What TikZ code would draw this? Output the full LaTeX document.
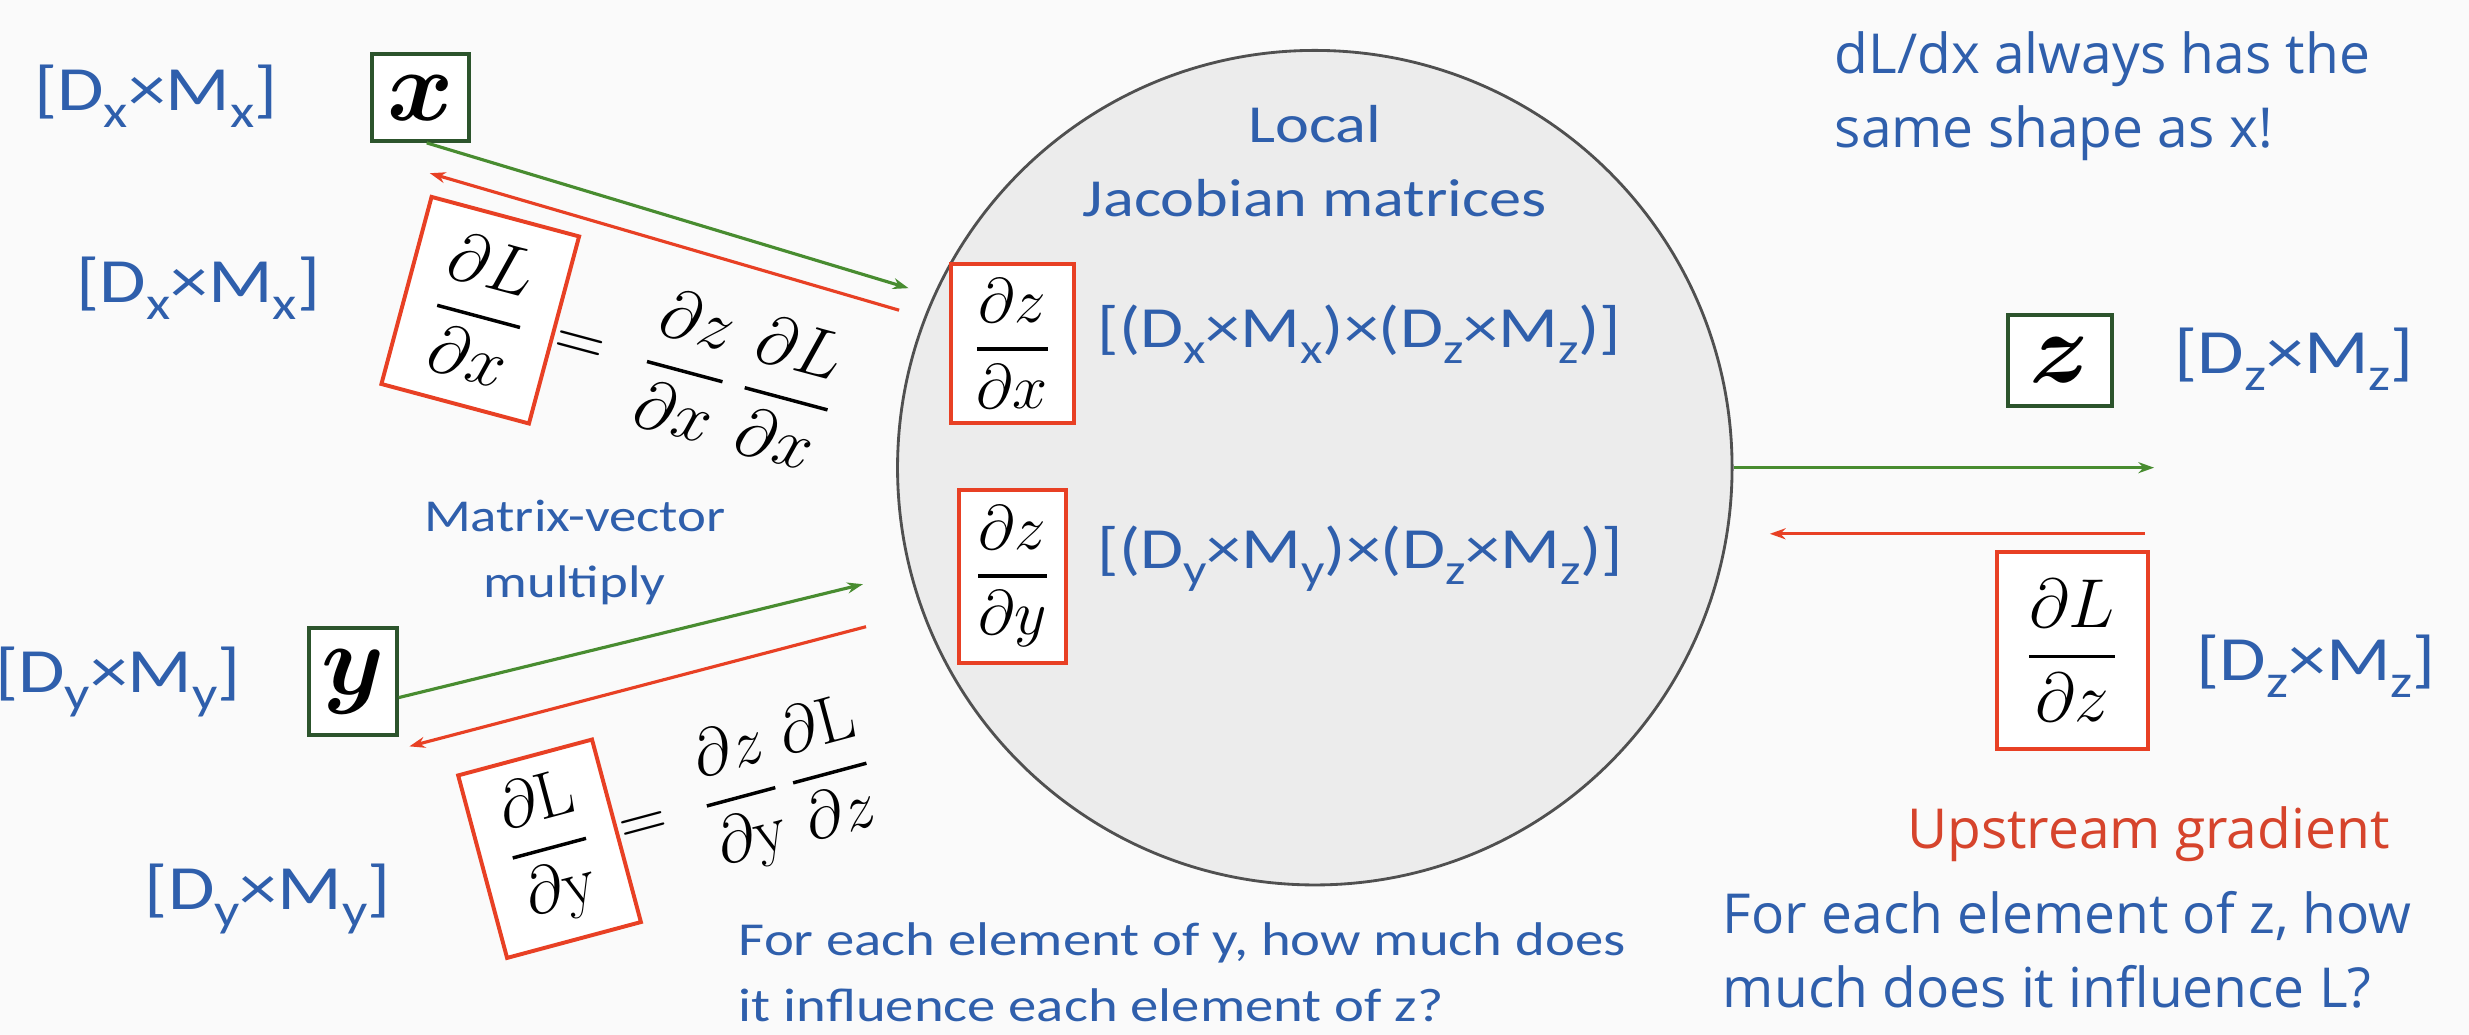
\RequirePackage{fix-cm}
\documentclass[tikz,border=0pt]{standalone}
\usepackage{amsmath}
\usepackage{graphicx}
\usepackage{fontspec}
\usetikzlibrary{arrows.meta}
\newfontfamily\lf[FakeStretch=1.2]{Carlito}
\newfontfamily\rf{Open Sans}
\definecolor{myblue}{RGB}{47,95,172}
\definecolor{myred}{RGB}{232,64,36}
\definecolor{ured}{RGB}{214,68,44}
\definecolor{mygreen}{RGB}{72,140,48}
\definecolor{boxgreen}{RGB}{44,84,44}
\definecolor{circfill}{RGB}{236,236,236}
\definecolor{circline}{RGB}{80,80,80}
\definecolor{bg}{RGB}{250,250,250}
\newcommand{\sbs}[1]{\raisebox{-0.27em}{\scalebox{0.74}{#1}}}
\newcommand{\fs}[1]{\fontsize{#1}{#1}\selectfont}
\newcommand{\pf}[2]{\genfrac{}{}{2.2pt}{0}{#1}{#2}}
\tikzset{
  bt/.style={text=myblue, inner sep=0pt, align=center},
  rt/.style={text=myblue, inner sep=0pt, align=left, font=\rf\fontsize{35}{47}\selectfont},
  gbox/.style={draw=boxgreen, line width=2.5pt, fill=white, inner sep=0pt,
    minimum width=#1, font=\fs{64}},
  rbox/.style={draw=myred, line width=2.5pt, fill=white, inner sep=0pt},
  fwd/.style={draw=mygreen, line width=2pt, -{Stealth[length=10pt,width=7pt]}},
  bwd/.style={draw=myred, line width=2pt, -{Stealth[length=10pt,width=7pt]}},
}
\begin{document}
\begin{tikzpicture}[x=1pt,y=1pt]
\useasboundingbox (0,0) rectangle (1568,-657);
\fill[bg] (0,0) rectangle (1568,-657);

% circle
\node[circle, draw=circline, fill=circfill, line width=1.8pt, minimum size=530pt, inner sep=0pt] (f) at (835,-297) {};
\node[bt, font=\lf\fs{34}] (loc) at (835,-79) {Local};
\node[bt, font=\lf\fs{34}] (jac) at (835,-126) {Jacobian matrices};

% x side
\node[bt, font=\lf\fs{40}] (lx1) at (99,-61) {[D\sbs{x}×M\sbs{x}]};
\node[gbox=62pt, minimum height=55pt] (x) at (267,-62) {$\boldsymbol{x}$};
\node[bt, font=\lf\fs{40}] (lx2) at (126,-183) {[D\sbs{x}×M\sbs{x}]};
\node[rbox, rotate=-15, minimum width=97pt, minimum height=123pt, font=\fs{44}] (dLdx) at (305,-197) {$\pf{\partial L}{\partial x}$};
\node[rotate=-15, anchor=west, inner sep=1pt, font=\fs{44}] (eqx) at (dLdx.east) {$=\mkern6mu\pf{\partial z}{\partial x}\mkern5mu\pf{\partial L}{\partial x}$};

\node[rbox, minimum width=78pt, minimum height=101pt, font=\fs{40}] (dzdx) at (643,-218) {$\pf{\partial z}{\partial x}$};
\node[bt, font=\lf\fs{37}, anchor=west] (jx) at (697,-212) {[(D\sbs{x}×M\sbs{x})×(D\sbs{z}×M\sbs{z})]};
\node[rbox, minimum width=68pt, minimum height=110pt, font=\fs{40}] (dzdy) at (643,-366) {$\pf{\partial z}{\partial y}$};
\node[bt, font=\lf\fs{37}, anchor=west] (jy) at (697,-355) {[(D\sbs{y}×M\sbs{y})×(D\sbs{z}×M\sbs{z})]};

\coordinate (gxe) at (577,-183);
\coordinate (rxs) at (571,-197);
\coordinate (rxe) at (273,-110);
\draw[fwd] ([xshift=4pt]x.south) -- (gxe);
\draw[bwd] (rxs) -- (rxe);

% y side
\node[bt, font=\lf\fontsize{29}{42}\selectfont] (mv) at (365,-351) {Matrix-vector\\multiply};
\node[bt, font=\lf\fs{40}] (ly1) at (75,-433) {[D\sbs{y}×M\sbs{y}]};
\node[gbox=56pt, minimum height=68pt] (y) at (224,-433) {$\boldsymbol{y}$};
\node[bt, font=\lf\fs{40}] (ly2) at (170,-571) {[D\sbs{y}×M\sbs{y}]};
\node[rbox, rotate=15, minimum width=88pt, minimum height=120pt, font=\fs{42}] (dLdy) at (349,-539) {$\pf{\partial \mathrm{L}}{\partial \mathrm{y}}$};
\node[rotate=15, anchor=west, inner sep=1pt, font=\fs{42}] (eqy) at (dLdy.east) {$=\mkern6mu\pf{\partial z}{\partial \mathrm{y}}\mkern4mu\pf{\partial \mathrm{L}}{\partial z}$};

\coordinate (gye) at (548,-371);
\coordinate (rys) at (550,-398);
\coordinate (rye) at (260,-474);
\draw[fwd] ([yshift=-10pt]y.east) -- (gye);
\draw[bwd] (rys) -- (rye);

\node[bt, font=\lf\fontsize{30}{42}\selectfont, align=left, anchor=north west] (fy) at (469,-586) {For each element of y, how much does\\it influence each element of z?};

% z side
\node[rt, anchor=north west] (note) at (1165,-20) {dL/dx always has the\\same shape as x!};
\node[gbox=66pt, minimum height=58pt] (z) at (1308,-229) {$\boldsymbol{z}$};
\node[bt, font=\lf\fs{40}] (lz1) at (1457,-228) {[D\sbs{z}×M\sbs{z}]};
\node[rbox, minimum width=96pt, minimum height=125pt, font=\fs{44}] (dLdz) at (1316,-413) {$\pf{\partial L}{\partial z}$};
\node[bt, font=\lf\fs{40}] (lz2) at (1471,-423) {[D\sbs{z}×M\sbs{z}]};
\coordinate (gze) at (1368,-297);
\coordinate (rzs) at (1362,-339);
\coordinate (rze) at (1124,-339);
\draw[fwd] (f.east) -- (gze);
\draw[bwd] (rzs) -- (rze);
\node[rt, text=ured, anchor=west] (up) at (1211,-530) {Upstream gradient};
\node[rt, anchor=north west] (fz) at (1094,-566) {For each element of z, how\\much does it influence L?};
\end{tikzpicture}
\end{document}
